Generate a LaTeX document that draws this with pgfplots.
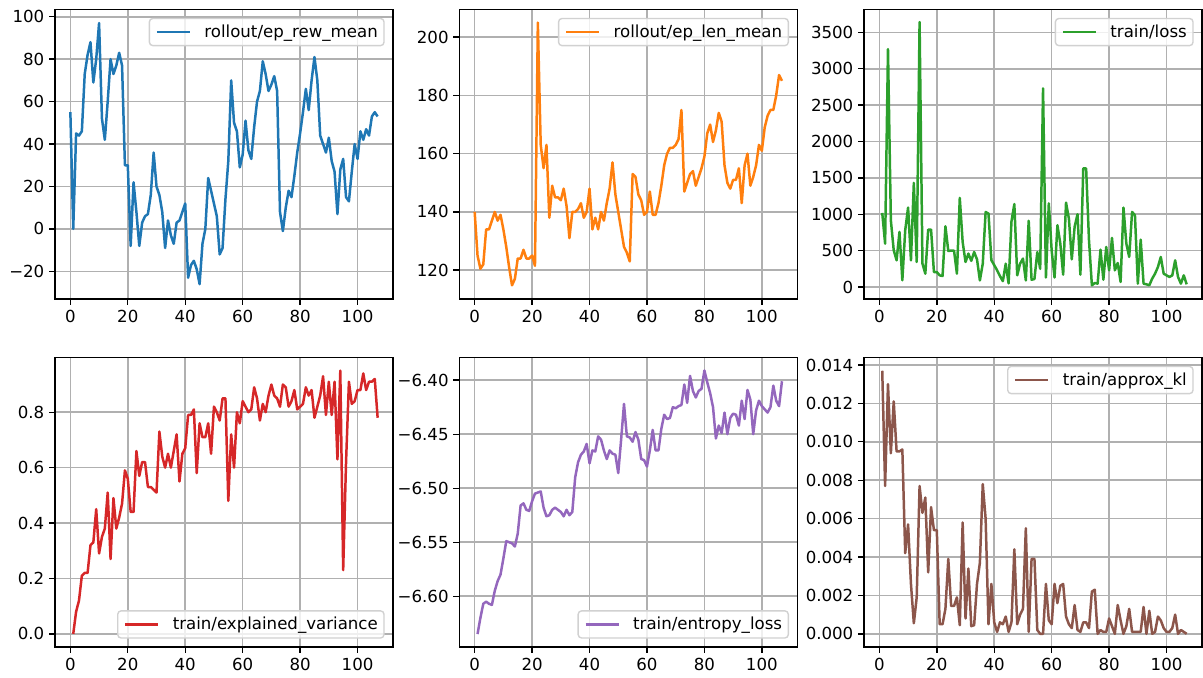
\documentclass[border=0pt]{standalone}
\usepackage{fontspec}
\setmainfont{DejaVu Sans}
\usepackage{pgfplots}
\pgfplotsset{compat=1.18}
\definecolor{C0}{HTML}{1F77B4}
\definecolor{C1}{HTML}{FF7F0E}
\definecolor{C2}{HTML}{2CA02C}
\definecolor{C3}{HTML}{D62728}
\definecolor{C4}{HTML}{9467BD}
\definecolor{C5}{HTML}{8C564B}
\definecolor{gridc}{HTML}{B0B0B0}
\pgfplotsset{
  mpl/.style={
    scale only axis, width=3.38in, height=2.895in,
    anchor=south west,
    xmin=-5.35, xmax=112.35,
    xtick={0,20,40,60,80,100},
    /pgf/number format/assume math mode=true,
    tick label style={font=\fontsize{12}{14}\selectfont},
    tick align=outside, tick pos=left,
    major tick length=4.2pt,
    every tick/.style={black, line width=1pt},
    axis line style={line width=1pt, black},
    grid=major,
    major grid style={color=gridc, line width=1.15pt},
    scaled ticks=false,
    legend cell align=left,
    legend image code/.code={\draw[##1] (0pt,0pt) -- (24pt,0pt);},
    legend style={font=\fontsize{12}{14}\selectfont,
      draw=black!18, line width=1pt, rounded corners=2.5pt, fill=white, fill opacity=0.8, text opacity=1,
      inner xsep=4.5pt, inner ysep=3.5pt,
      nodes={inner xsep=0pt, inner ysep=1pt},
      /tikz/every odd column/.append style={column sep=9.5pt}},
    every axis plot/.append style={line width=1.8pt, line join=round},
  },
  legNE/.style={legend style={at={(1,1)}, anchor=north east, xshift=-6pt, yshift=-6pt}},
  legSE/.style={legend style={at={(1,0)}, anchor=south east, xshift=-6pt, yshift=6pt}},
  toprow/.style={xticklabel={}},
  botrow/.style={xticklabels={0,20,40,60,80,100}},
}
\begin{document}
\begin{tikzpicture}
\useasboundingbox (0,0) rectangle (12.03in,6.78in);

% ---------- rollout/ep_rew_mean
\begin{axis}[mpl, toprow, legNE, at={(0.55in,3.79in)},
  ymin=-33, ymax=103.4,
  ytick={-20,0,20,40,60,80,100}, yticklabels={−20,0,20,40,60,80,100}]
\addplot[C0] coordinates {
(0,55) (1,0) (2,45) (3,44) (4,46) (5,73) (6,82) (7,88) (8,69) (9,80)
(10,97) (11,52) (12,42) (13,60) (14,80) (15,73) (16,77) (17,83) (18,77) (19,30)
(20,30) (21,-8) (22,22) (23,8) (24,-8) (25,3) (26,6) (27,7) (28,16) (29,36)
(30,20) (31,16) (32,8) (33,-9) (34,4) (35,-3) (36,-7) (37,3) (38,4) (39,8)
(40,12) (41,-23) (42,-17) (43,-15) (44,-19) (45,-26) (46,-7) (47,0) (48,24) (49,18)
(50,12) (51,6) (52,-12) (53,-9) (54,14) (55,32) (56,70) (57,50) (58,46) (59,29)
(60,35) (61,51) (62,37) (63,33) (64,48) (65,60) (66,65) (67,79) (68,73) (69,65)
(70,68) (71,72) (72,65) (73,8) (74,-1) (75,10) (76,18) (77,15) (78,25) (79,36)
(80,45) (81,55) (82,66) (83,56) (84,70) (85,81) (86,70) (87,44) (88,40) (89,36)
(90,43) (91,32) (92,27) (93,7) (94,28) (95,33) (96,15) (97,13) (98,27) (99,40)
(100,33) (101,46) (102,42) (103,47) (104,44) (105,53) (106,55) (107,53)
};
\addlegendentry{rollout/ep\_rew\_mean}
\end{axis}

% ---------- rollout/ep_len_mean
\begin{axis}[mpl, toprow, legNE, at={(4.593in,3.79in)},
  ymin=110.1, ymax=209.5,
  ytick={120,140,160,180,200}, yticklabels={120,140,160,180,200}]
\addplot[C1] coordinates {
(0,140) (1,125) (2,120.5) (3,122) (4,134) (5,134) (6,137) (7,140) (8,137) (9,139)
(10,134) (11,128) (12,121) (13,114.8) (14,117) (15,124) (16,124) (17,127) (18,124) (19,124)
(20,125) (21,121.5) (22,205) (23,163) (24,155) (25,163) (26,138) (27,149) (28,145) (29,145)
(30,144) (31,148) (32,142) (33,131) (34,140) (35,140) (36,141) (37,143) (38,138) (39,140)
(40,148) (41,134) (42,138) (43,134) (44,140) (45,137) (46,143) (47,148) (48,157) (49,146)
(50,140) (51,134) (52,128) (53,126) (54,123) (55,153) (56,152) (57,146) (58,144) (59,139)
(60,140) (61,147) (62,139) (63,139) (64,143) (65,149) (66,156) (67,160) (68,162) (69,162)
(70,163) (71,165) (72,175) (73,147) (74,150) (75,153) (76,154) (77,149) (78,152) (79,155)
(80,159) (81,167) (82,170) (83,164) (84,168) (85,174) (86,171) (87,156) (88,150) (89,148)
(90,151) (91,151) (92,155) (93,143) (94,156) (95,160) (96,149) (97,152) (98,156) (99,163)
(100,161) (101,169) (102,173) (103,175) (104,175) (105,180) (106,187) (107,185)
};
\addlegendentry{rollout/ep\_len\_mean}
\end{axis}

% ---------- train/loss
\begin{axis}[mpl, toprow, legNE, at={(8.64in,3.79in)},
  ymin=-165, ymax=3815,
  ytick={0,500,1000,1500,2000,2500,3000,3500}, yticklabels={0,500,1000,1500,2000,2500,3000,3500}]
\addplot[C2] coordinates {
(1,1018) (2,596) (3,3270) (4,917) (5,505) (6,367) (7,757) (8,92) (9,780)
(10,1092) (11,367) (12,1431) (13,344) (14,3642) (15,321) (16,183) (17,789) (18,789) (19,206)
(20,206) (21,160) (22,151) (23,835) (24,495) (25,500) (26,500) (27,183) (28,1225) (29,619)
(30,344) (31,459) (32,360) (33,481) (34,380) (35,90) (36,320) (37,1030) (38,1010) (39,370)
(40,300) (41,230) (42,150) (43,80) (44,320) (45,50) (46,900) (47,1140) (48,160) (49,320)
(50,390) (51,90) (52,910) (53,100) (54,110) (55,480) (56,250) (57,2730) (58,130) (59,1150)
(60,500) (61,130) (62,850) (63,600) (64,170) (65,1160) (66,940) (67,380) (68,830) (69,1000)
(70,170) (71,1630) (72,1630) (73,640) (74,23) (75,55) (76,46) (77,514) (78,101) (79,550)
(80,229) (81,674) (82,229) (83,330) (84,69) (85,1092) (86,596) (87,413) (88,1032) (89,986)
(90,46) (91,651) (92,46) (93,37) (94,23) (95,115) (96,183) (97,275) (98,413) (99,183)
(100,160) (101,138) (102,160) (103,367) (104,138) (105,46) (106,160) (107,37)
};
\addlegendentry{train/loss}
\end{axis}

% ---------- train/explained_variance
\begin{axis}[mpl, botrow, legSE, at={(0.55in,0.31in)},
  ymin=-0.0475, ymax=0.9975,
  ytick={0,0.2,0.4,0.6,0.8}, yticklabels={0.0,0.2,0.4,0.6,0.8}]
\addplot[C3] coordinates {
(1,0.0) (2,0.08) (3,0.12) (4,0.21) (5,0.22) (6,0.22) (7,0.32) (8,0.33) (9,0.45)
(10,0.29) (11,0.35) (12,0.38) (13,0.51) (14,0.27) (15,0.49) (16,0.38) (17,0.42) (18,0.47) (19,0.59)
(20,0.56) (21,0.44) (22,0.44) (23,0.66) (24,0.57) (25,0.62) (26,0.62) (27,0.53) (28,0.53) (29,0.52)
(30,0.51) (31,0.73) (32,0.64) (33,0.60) (34,0.65) (35,0.60) (36,0.66) (37,0.72) (38,0.55) (39,0.65)
(40,0.67) (41,0.79) (42,0.79) (43,0.81) (44,0.58) (45,0.76) (46,0.71) (47,0.71) (48,0.76) (49,0.65)
(50,0.82) (51,0.80) (52,0.77) (53,0.85) (54,0.85) (55,0.48) (56,0.72) (57,0.60) (58,0.80) (59,0.76)
(60,0.84) (61,0.82) (62,0.80) (63,0.81) (64,0.89) (65,0.85) (66,0.77) (67,0.83) (68,0.80) (69,0.86)
(70,0.90) (71,0.86) (72,0.85) (73,0.82) (74,0.90) (75,0.89) (76,0.82) (77,0.84) (78,0.88) (79,0.81)
(80,0.82) (81,0.83) (82,0.89) (83,0.86) (84,0.88) (85,0.78) (86,0.82) (87,0.86) (88,0.93) (89,0.79)
(90,0.91) (91,0.79) (92,0.91) (93,0.63) (94,0.95) (95,0.23) (96,0.62) (97,0.91) (98,0.83) (99,0.84)
(100,0.88) (101,0.88) (102,0.94) (103,0.88) (104,0.91) (105,0.91) (106,0.92) (107,0.78)
};
\addlegendentry{train/explained\_variance}
\end{axis}

% ---------- train/entropy_loss
\begin{axis}[mpl, botrow, legSE, at={(4.593in,0.31in)},
  ymin=-6.647, ymax=-6.379,
  ytick={-6.60,-6.55,-6.50,-6.45,-6.40}, yticklabels={−6.60,−6.55,−6.50,−6.45,−6.40}]
\addplot[C4] coordinates {
(1,-6.635) (2,-6.620) (3,-6.607) (4,-6.605) (5,-6.607) (6,-6.608) (7,-6.595) (8,-6.586) (9,-6.580)
(10,-6.565) (11,-6.549) (12,-6.550) (13,-6.551) (14,-6.554) (15,-6.542) (16,-6.516) (17,-6.514) (18,-6.520) (19,-6.521)
(20,-6.512) (21,-6.505) (22,-6.504) (23,-6.503) (24,-6.518) (25,-6.526) (26,-6.525) (27,-6.520) (28,-6.518) (29,-6.520)
(30,-6.522) (31,-6.526) (32,-6.520) (33,-6.525) (34,-6.522) (35,-6.490) (36,-6.476) (37,-6.469) (38,-6.466) (39,-6.459)
(40,-6.477) (41,-6.465) (42,-6.466) (43,-6.452) (44,-6.455) (45,-6.465) (46,-6.473) (47,-6.465) (48,-6.468) (49,-6.469)
(50,-6.486) (51,-6.455) (52,-6.422) (53,-6.452) (54,-6.453) (55,-6.457) (56,-6.448) (57,-6.455) (58,-6.473) (59,-6.474)
(60,-6.480) (61,-6.465) (62,-6.446) (63,-6.465) (64,-6.465) (65,-6.445) (66,-6.432) (67,-6.436) (68,-6.435) (69,-6.425)
(70,-6.426) (71,-6.424) (72,-6.423) (73,-6.404) (74,-6.421) (75,-6.396) (76,-6.410) (77,-6.416) (78,-6.410) (79,-6.408)
(80,-6.391) (81,-6.402) (82,-6.412) (83,-6.425) (84,-6.454) (85,-6.442) (86,-6.449) (87,-6.430) (88,-6.450) (89,-6.435)
(90,-6.431) (91,-6.432) (92,-6.442) (93,-6.419) (94,-6.436) (95,-6.409) (96,-6.418) (97,-6.450) (98,-6.428) (99,-6.419)
(100,-6.424) (101,-6.427) (102,-6.430) (103,-6.425) (104,-6.405) (105,-6.419) (106,-6.424) (107,-6.401)
};
\addlegendentry{train/entropy\_loss}
\end{axis}

% ---------- train/approx_kl
\begin{axis}[mpl, botrow, legNE, at={(8.64in,0.31in)},
  ymin=-0.000685, ymax=0.01439,
  ytick={0,0.002,0.004,0.006,0.008,0.010,0.012,0.014},
  yticklabels={0.000,0.002,0.004,0.006,0.008,0.010,0.012,0.014}]
\addplot[C5] coordinates {
(1,0.0137) (2,0.0077) (3,0.0130) (4,0.0094) (5,0.0121) (6,0.0095) (7,0.0095) (8,0.0096) (9,0.0042)
(10,0.0057) (11,0.0026) (12,0.00055) (13,0.0019) (14,0.0077) (15,0.0063) (16,0.0071) (17,0.0032) (18,0.0066) (19,0.0054)
(20,0.0054) (21,0.0005) (22,0.0005) (23,0.0013) (24,0.0039) (25,0.00145) (26,0.00145) (27,0.0019) (28,0.00045) (29,0.0058)
(30,0.0008) (31,0.0034) (32,0.0004) (33,0.00045) (34,0.0026) (35,0.0037) (36,0.0078) (37,0.0060) (38,0.0005) (39,0.0026)
(40,0.0006) (41,0.0001) (42,0.0006) (43,0.0005) (44,0.0009) (45,0.0001) (46,0.0006) (47,0.0044) (48,0.0005) (49,0.0010)
(50,0.0013) (51,0.0055) (52,0.0001) (53,0.0039) (54,0.0039) (55,0.0002) (56,0.0000) (57,0.0000) (58,0.0026) (59,0.0007)
(60,0.0005) (61,0.0026) (62,0.0016) (63,0.0025) (64,0.0026) (65,0.0009) (66,0.0005) (67,0.0003) (68,0.0015) (69,0.0002)
(70,0.0001) (71,0.0006) (72,0.0006) (73,0.0003) (74,0.0022) (75,0.0023) (76,0.0000) (77,0.0002) (78,0.0001) (79,0.0001)
(80,0.0008) (81,0.0004) (82,0.0000) (83,0.0015) (84,0.0007) (85,0.0000) (86,0.0004) (87,0.0013) (88,0.0001) (89,0.0001)
(90,0.0001) (91,0.0001) (92,0.0014) (93,0.0000) (94,0.0012) (95,0.0000) (96,0.0001) (97,0.0009) (98,0.0007) (99,0.0003)
(100,0.0001) (101,0.0001) (102,0.0003) (103,0.0010) (104,0.0000) (105,0.0002) (106,0.0001) (107,0.0000)
};
\addlegendentry{train/approx\_kl}
\end{axis}
\end{tikzpicture}
\end{document}
